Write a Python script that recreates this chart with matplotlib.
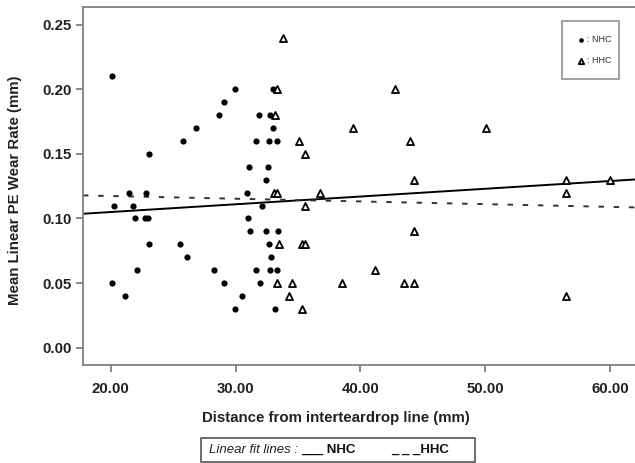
import matplotlib
matplotlib.use("Agg")
import matplotlib.pyplot as plt
from matplotlib.patches import Rectangle
import numpy as np

# ---- data ----
nhc_x = [20.13, 29.98, 33.0, 29.1, 28.7, 31.9, 32.8, 26.86, 32.98,
         25.77, 31.64, 32.7, 33.35, 23.1, 31.08, 32.6, 32.4,
         21.47, 22.85, 30.9, 20.26, 21.76, 32.1,
         21.95, 22.75, 22.95, 31.0, 31.16, 32.4, 33.4,
         23.1, 25.55, 32.7, 26.14, 32.85,
         22.08, 28.28, 31.67, 32.8, 33.3,
         20.07, 29.08, 31.96, 21.17, 30.5, 29.98, 33.2]
nhc_y = [0.21, 0.20, 0.20, 0.19, 0.18, 0.18, 0.18, 0.17, 0.17,
         0.16, 0.16, 0.16, 0.16, 0.15, 0.14, 0.14, 0.13,
         0.12, 0.12, 0.12, 0.11, 0.11, 0.11,
         0.10, 0.10, 0.10, 0.10, 0.09, 0.09, 0.09,
         0.08, 0.08, 0.08, 0.07, 0.07,
         0.06, 0.06, 0.06, 0.06, 0.06,
         0.05, 0.05, 0.05, 0.04, 0.04, 0.03, 0.03]

hhc_x = [33.8, 33.3, 42.8, 33.2, 39.4, 50.05, 35.1, 44.0, 35.6,
         44.3, 56.46, 60.0, 33.1, 33.35, 36.8, 56.46, 35.6,
         44.3, 33.5, 35.3, 35.6, 41.2,
         33.3, 34.5, 38.5, 43.5, 44.3, 34.3, 56.46, 35.3]
hhc_y = [0.24, 0.20, 0.20, 0.18, 0.17, 0.17, 0.16, 0.16, 0.15,
         0.13, 0.13, 0.13, 0.12, 0.12, 0.12, 0.12, 0.11,
         0.09, 0.08, 0.08, 0.08, 0.06,
         0.05, 0.05, 0.05, 0.05, 0.05, 0.04, 0.04, 0.03]

# linear fit lines (intercept, slope)
nhc_fit = (0.0930, 0.00060)
hhc_fit = (0.1216, -0.00021)

x_ticks = [20, 30, 40, 50, 60]
y_ticks = [0.00, 0.05, 0.10, 0.15, 0.20, 0.25]

plt.rcParams['font.family'] = ['Liberation Sans', 'DejaVu Sans']

W, H = 635, 463
fig = plt.figure(figsize=(W / 100, H / 100), dpi=100)
ax = fig.add_axes([83 / W, 1 - 365 / H, (W - 83) / W, (365 - 7) / H])

ax.set_xlim(17.78, 62.0)
ax.set_ylim(-0.0134, 0.2637)

ax.scatter(nhc_x, nhc_y, s=20, c='black', marker='o', linewidths=0, zorder=3, label=': NHC')
ax.scatter(hhc_x, hhc_y, s=26, facecolors='white', edgecolors='black', marker='^',
           linewidths=1.3, zorder=3, label=': HHC')

ax.axline((0, nhc_fit[0]), slope=nhc_fit[1], color='black', lw=1.4, zorder=2)
ax.axline((0, hhc_fit[0]), slope=hhc_fit[1], color='#333333', lw=1.4,
          linestyle=(0, (2.8, 5)), zorder=2)

spine_c = '#808080'
for s in ['left', 'bottom', 'top']:
    ax.spines[s].set_color(spine_c)
    ax.spines[s].set_linewidth(1.3)
ax.spines['right'].set_visible(False)

ax.set_xticks(x_ticks)
ax.set_xticklabels([f"{v:.2f}" for v in x_ticks])
ax.set_yticks(y_ticks)
ax.set_yticklabels([f"{v:.2f}" for v in y_ticks])
ax.tick_params(axis='both', direction='out', length=5, width=1.3, color=spine_c,
               labelsize=10.8, colors='#222222')
ax.tick_params(axis='x', pad=7)
ax.tick_params(axis='y', pad=3)
for lab in ax.get_xticklabels() + ax.get_yticklabels():
    lab.set_fontweight('bold')
    lab.set_color('#222222')

ax.set_xlabel('Distance from interteardrop line (mm)', fontsize=10.8,
              fontweight='bold', color='#222222')
ax.xaxis.set_label_coords((335.5 - 83) / (W - 83), (365 - 418) / 358)
ax.xaxis.label.set_verticalalignment('center')
ax.set_ylabel('Mean Linear PE Wear Rate (mm)', fontsize=10.8,
              fontweight='bold', color='#222222')
ax.yaxis.set_label_coords((15 - 83) / (W - 83), (365 - 190) / 358)
ax.yaxis.label.set_verticalalignment('center')

leg = ax.legend(loc='upper left',
                bbox_to_anchor=(561.7 / W, 1 - 81 / H, 57.6 / W, 60.3 / H),
                bbox_transform=fig.transFigure, mode='expand',
                fontsize=6.5, labelspacing=1.3, borderpad=1.6, handlelength=1.0,
                handletextpad=0.2, borderaxespad=0, fancybox=False,
                scatterpoints=1, markerscale=0.75)
leg.get_frame().set_edgecolor(spine_c)
leg.get_frame().set_linewidth(1.3)
for t in leg.get_texts():
    t.set_color('#333333')

# bottom fit-line legend box
fig.add_artist(Rectangle((201 / W, 1 - 462 / H), (475 - 201) / W, (462 - 438) / H,
                         transform=fig.transFigure, fill=False,
                         edgecolor='#555555', lw=1.2))
ty = 1 - 450 / H
fig.text(209 / W, ty, 'Linear fit lines :', fontsize=9.5, style='italic',
         va='center', ha='left', color='#222222')
fig.text(301 / W, ty, '___ NHC', fontsize=9.5, fontweight='bold',
         va='center', ha='left', color='#111111')
fig.text(391 / W, ty, '_ _ _HHC', fontsize=9.5, fontweight='bold',
         va='center', ha='left', color='#111111')

fig.savefig('out.png', dpi=100)
